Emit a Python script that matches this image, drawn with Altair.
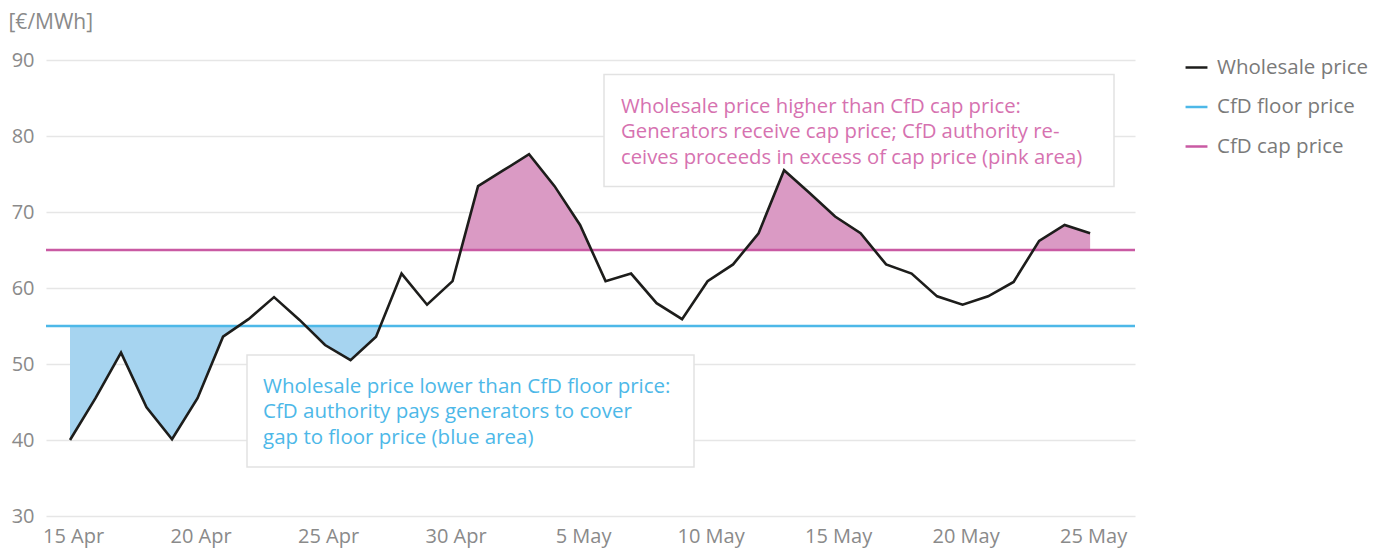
import altair as alt
import pandas as pd

# ---- data ----
dates = pd.date_range("2023-04-15", "2023-05-25", freq="D")
price = [40.0, 45.5, 51.5, 44.3, 40.1, 45.5, 53.6, 55.9, 58.8, 55.8,
         52.5, 50.5, 53.6, 61.9, 57.8, 60.9, 73.4, 75.5, 77.6, 73.4,
         68.3, 60.9, 61.9, 58.0, 55.9, 60.9, 63.1, 67.2, 75.5, 72.5,
         69.4, 67.2, 63.1, 61.9, 58.9, 57.8, 58.9, 60.8, 66.2, 68.3, 67.2]
floor_price = 55
cap_price = 65
series = ["Wholesale price", "CfD floor price", "CfD cap price"]
series_colors = ["#1d1d1b", "#4db8e8", "#c95aa3"]
y_ticks = [30, 40, 50, 60, 70, 80, 90]
tick_dates = list(dates[::5])

pink_text = ("Wholesale price higher than CfD cap price:\n"
             "Generators receive cap price; CfD authority re-\n"
             "ceives proceeds in excess of cap price (pink area)")
blue_text = ("Wholesale price lower than CfD floor price:\n"
             "CfD authority pays generators to cover\n"
             "gap to floor price (blue area)")

FONT = "Open Sans"
GREY = "#8a8a8a"


def with_crossings(vals, level):
    """Add the points where the price line crosses a level (for shading)."""
    xs, ys = [], []
    for i, a in enumerate(vals):
        xs.append(float(i))
        ys.append(a)
        if i < len(vals) - 1:
            b = vals[i + 1]
            if (a - level) * (b - level) < 0:
                t = (level - a) / (b - a)
                xs.append(i + t)
                ys.append(level)
    return xs, ys


def dt(ts):
    return alt.DateTime(year=ts.year, month=ts.month, date=ts.day,
                        hours=ts.hour, minutes=ts.minute)


line_df = pd.DataFrame({"date": dates, "price": price, "series": series[0]})

bx, by = with_crossings(price, floor_price)
blue_df = pd.DataFrame({
    "date": dates[0] + pd.to_timedelta(bx, unit="D"),
    "lo": [min(v, floor_price) for v in by],
    "hi": floor_price,
})
px, py = with_crossings(price, cap_price)
pink_df = pd.DataFrame({
    "date": dates[0] + pd.to_timedelta(px, unit="D"),
    "hi": [max(v, cap_price) for v in py],
    "lo": cap_price,
})
rules_df = pd.DataFrame({"series": series[1:], "price": [floor_price, cap_price]})

x_dom = [dt(dates[0] - pd.Timedelta(hours=22, minutes=36)),
         dt(dates[-1] + pd.Timedelta(hours=42, minutes=14))]

x_enc = alt.X("date:T", scale=alt.Scale(domain=x_dom),
              axis=alt.Axis(values=[dt(d) for d in tick_dates], format="%-d %b",
                            title=None, grid=False, domain=False, ticks=False,
                            labelPadding=10, labelFontSize=20, labelColor=GREY,
                            labelFont=FONT, labelOffset=3))
y_scale = alt.Scale(domain=[30, 90], nice=False)
color_enc = alt.Color("series:N",
                      scale=alt.Scale(domain=series, range=series_colors),
                      legend=alt.Legend(title=None, orient="none", legendX=1138,
                                        legendY=-5, symbolType="stroke",
                                        symbolSize=480, symbolStrokeWidth=2.5,
                                        labelFontSize=20.5, labelColor="#7a7a7a",
                                        labelFont=FONT, rowPadding=16.5,
                                        labelOffset=8, padding=0))

one = pd.DataFrame({"k": [0]})

box_pink = alt.Chart(one).mark_rect(fill="white", stroke="#e2e2e2", strokeWidth=1.5).encode(
    x=alt.value(558), x2=alt.value(1068), y=alt.value(14.5), y2=alt.value(126.5))
box_blue = alt.Chart(one).mark_rect(fill="white", stroke="#e2e2e2", strokeWidth=1.5).encode(
    x=alt.value(201), x2=alt.value(648), y=alt.value(295), y2=alt.value(407))

blue_area = alt.Chart(blue_df).mark_area(color="#a6d4f0", opacity=1).encode(
    x=x_enc, y=alt.Y("lo:Q", scale=y_scale), y2="hi:Q")
pink_area = alt.Chart(pink_df).mark_area(color="#da9ac4", opacity=1).encode(
    x=x_enc, y=alt.Y("hi:Q", scale=y_scale), y2="lo:Q")

rules = alt.Chart(rules_df).mark_rule(strokeWidth=2.5).encode(
    y=alt.Y("price:Q", scale=y_scale), color=color_enc)

line = alt.Chart(line_df).mark_line(strokeWidth=2.6, strokeJoin="miter").encode(
    x=x_enc,
    y=alt.Y("price:Q", scale=y_scale,
            axis=alt.Axis(values=y_ticks, title="[€/MWh]", titleAngle=0,
                          titleAlign="left", titleBaseline="middle",
                          titleX=-38, titleY=-38, titleFontSize=21,
                          titleFontWeight="normal", titleColor=GREY,
                          titleFont=FONT, labelFontSize=20, labelColor=GREY,
                          labelFont=FONT, labelPadding=12, domain=False,
                          ticks=False, gridColor="#e6e6e6", gridWidth=1.5)),
    color=color_enc)

txt_pink = alt.Chart(one).mark_text(align="left", baseline="middle", fontSize=20.3,
                                    font=FONT, color="#d672b0", lineBreak="\n",
                                    lineHeight=25.5).encode(
    x=alt.value(575), y=alt.value(46.5), text=alt.value(pink_text))
txt_blue = alt.Chart(one).mark_text(align="left", baseline="middle", fontSize=20.5,
                                    font=FONT, color="#4db8e8", lineBreak="\n",
                                    lineHeight=25.7).encode(
    x=alt.value(217), y=alt.value(326.5), text=alt.value(blue_text))

chart = alt.layer(box_pink, box_blue, blue_area, pink_area, rules, line,
                  txt_pink, txt_blue).properties(
    width=1089, height=456,
    autosize=alt.AutoSizeParams(type="none"),
    padding={"left": 38, "top": 52, "right": 240, "bottom": 32},
).configure_view(stroke=None)

chart.save("out.html", embed_options={"renderer": "svg", "actions": False})
